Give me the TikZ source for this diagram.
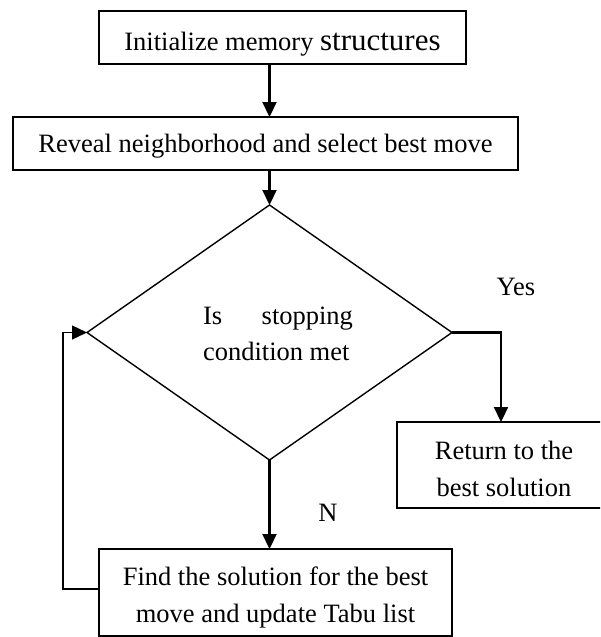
\documentclass[tikz,border=0pt]{standalone}
\usepackage{fontspec}
\setmainfont{Liberation Serif}
\usetikzlibrary{shapes.geometric,arrows.meta}
\begin{document}
\begin{tikzpicture}[x=1pt,y=-1pt,
  box/.style={draw,line width=1.8pt,inner sep=0pt,outer sep=0pt,font=\fontsize{26.5}{36.5}\selectfont,align=center},
  arr/.style={line width=2.2pt,-{Triangle[length=15pt,width=14pt]}},
  looparr/.style={line width=1.4pt,-{Triangle[length=15pt,width=14pt]}},
  lbl/.style={font=\fontsize{26.5}{36.5}\selectfont,inner sep=0pt}]
\useasboundingbox (0,0) rectangle (600,637);
\clip (0,0) rectangle (600,637);
\node[box,minimum width=367pt,minimum height=53pt,text height=25pt,text depth=0pt] (b1) at (282.5,37.5) {Initialize memory {\fontsize{31}{36}\selectfont structures}};
\node[box,minimum width=505pt,minimum height=53pt,text height=18pt,text depth=1pt] (b2) at (265.5,143.5) {Reveal neighborhood and select best move};
\node[draw,diamond,line width=1.4pt,minimum width=365pt,minimum height=255pt,inner sep=0pt,outer sep=0pt] (d) at (269.5,332.5) {};
\node[lbl,align=left] (dt) at (278,334) {\makebox[150pt][s]{Is stopping}\\condition met};
\node[box,minimum width=214pt,minimum height=86pt] (b3) at (504,465) {\rule{0pt}{26pt}Return to the\\best solution};
\node[box,minimum width=353pt,minimum height=87pt] (b4) at (275.5,592.5) {\rule{0pt}{29pt}Find the solution for the best\\move and update Tabu list};
\node[lbl] (yes) at (516,286.5) {Yes};
\node[lbl] (no) at (328,513) {N};
\draw[arr] (b1.south -| d.north) -- (b2.north -| d.north);
\draw[arr] (b2.south -| d.north) -- (d.north);
\draw[arr] (d.east) -| ([xshift=-3pt]b3.north);
\draw[arr] (d.south) -- (d.south |- b4.north);
\draw[looparr] ([yshift=3.5pt]b4.west) -- ++(-36,0) |- (d.west);
\end{tikzpicture}
\end{document}
